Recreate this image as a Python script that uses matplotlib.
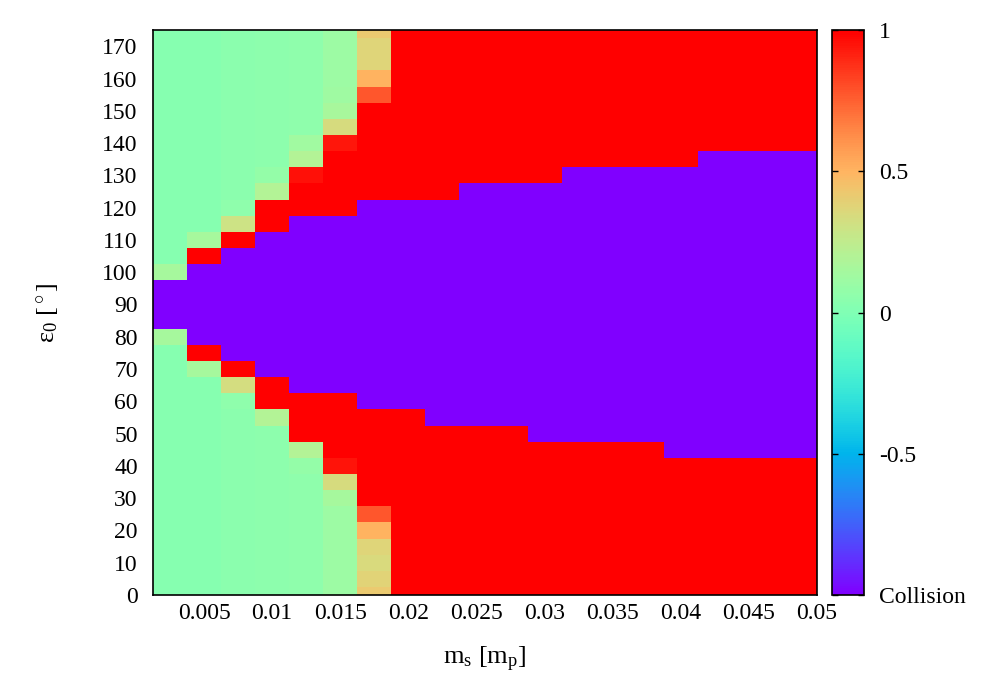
import numpy as np
import matplotlib
matplotlib.use('Agg')
import matplotlib.pyplot as plt
from matplotlib.colors import ListedColormap

plt.rcParams['font.family'] = ['Liberation Serif', 'DejaVu Serif']
plt.rcParams['mathtext.fontset'] = 'custom'
plt.rcParams['mathtext.rm'] = 'Liberation Serif'
plt.rcParams['mathtext.it'] = 'Liberation Serif:italic'

# satellite mass (column centres) and initial obliquity (row centres)
m_s = [0.0025, 0.005, 0.0075, 0.01, 0.0125, 0.015, 0.0175, 0.02, 0.0225, 0.025,
       0.0275, 0.03, 0.0325, 0.035, 0.0375, 0.04, 0.0425, 0.045, 0.0475, 0.05]
eps0 = [175, 170, 165, 160, 155, 150, 145, 140, 135, 130, 125, 120,
        115, 110, 105, 100, 95, 90, 85, 80, 75, 70, 65, 60,
        55, 50, 45, 40, 35, 30, 25, 20, 15, 10, 5, 0]

C = -1.0  # collision
# one row per eps0 value (top to bottom), one entry per m_s value
outcome = [
    [.03, .03, .04, .05, .06, .11, .42, 1, 1, 1, 1, 1, 1, 1, 1, 1, 1, 1, 1, 1],
    [.03, .03, .04, .05, .06, .11, .37, 1, 1, 1, 1, 1, 1, 1, 1, 1, 1, 1, 1, 1],
    [.03, .03, .04, .05, .06, .11, .37, 1, 1, 1, 1, 1, 1, 1, 1, 1, 1, 1, 1, 1],
    [.03, .03, .04, .05, .06, .11, .50, 1, 1, 1, 1, 1, 1, 1, 1, 1, 1, 1, 1, 1],
    [.03, .03, .04, .05, .06, .12, .78, 1, 1, 1, 1, 1, 1, 1, 1, 1, 1, 1, 1, 1],
    [.03, .03, .04, .05, .06, .16, 1, 1, 1, 1, 1, 1, 1, 1, 1, 1, 1, 1, 1, 1],
    [.03, .03, .04, .05, .06, .34, 1, 1, 1, 1, 1, 1, 1, 1, 1, 1, 1, 1, 1, 1],
    [.03, .03, .04, .05, .13, .94, 1, 1, 1, 1, 1, 1, 1, 1, 1, 1, 1, 1, 1, 1],
    [.03, .03, .04, .05, .20, 1, 1, 1, 1, 1, 1, 1, 1, 1, 1, 1, C, C, C, C],
    [.03, .03, .04, .08, .96, 1, 1, 1, 1, 1, 1, 1, C, C, C, C, C, C, C, C],
    [.03, .03, .04, .20, 1, 1, 1, 1, 1, C, C, C, C, C, C, C, C, C, C, C],
    [.03, .03, .06, 1, 1, 1, C, C, C, C, C, C, C, C, C, C, C, C, C, C],
    [.03, .03, .30, 1, C, C, C, C, C, C, C, C, C, C, C, C, C, C, C, C],
    [.03, .15, 1, C, C, C, C, C, C, C, C, C, C, C, C, C, C, C, C, C],
    [.03, 1, C, C, C, C, C, C, C, C, C, C, C, C, C, C, C, C, C, C],
    [.15, C, C, C, C, C, C, C, C, C, C, C, C, C, C, C, C, C, C, C],
    [C, C, C, C, C, C, C, C, C, C, C, C, C, C, C, C, C, C, C, C],
    [C, C, C, C, C, C, C, C, C, C, C, C, C, C, C, C, C, C, C, C],
    [C, C, C, C, C, C, C, C, C, C, C, C, C, C, C, C, C, C, C, C],
    [.15, C, C, C, C, C, C, C, C, C, C, C, C, C, C, C, C, C, C, C],
    [.03, 1, C, C, C, C, C, C, C, C, C, C, C, C, C, C, C, C, C, C],
    [.03, .15, 1, C, C, C, C, C, C, C, C, C, C, C, C, C, C, C, C, C],
    [.03, .03, .33, 1, C, C, C, C, C, C, C, C, C, C, C, C, C, C, C, C],
    [.03, .03, .06, 1, 1, 1, C, C, C, C, C, C, C, C, C, C, C, C, C, C],
    [.03, .03, .04, .20, 1, 1, 1, 1, C, C, C, C, C, C, C, C, C, C, C, C],
    [.03, .03, .04, .05, 1, 1, 1, 1, 1, 1, 1, C, C, C, C, C, C, C, C, C],
    [.03, .03, .04, .05, .20, 1, 1, 1, 1, 1, 1, 1, 1, 1, 1, C, C, C, C, C],
    [.03, .03, .04, .05, .08, .95, 1, 1, 1, 1, 1, 1, 1, 1, 1, 1, 1, 1, 1, 1],
    [.03, .03, .04, .05, .06, .34, 1, 1, 1, 1, 1, 1, 1, 1, 1, 1, 1, 1, 1, 1],
    [.03, .03, .04, .05, .06, .15, 1, 1, 1, 1, 1, 1, 1, 1, 1, 1, 1, 1, 1, 1],
    [.03, .03, .04, .05, .06, .11, .78, 1, 1, 1, 1, 1, 1, 1, 1, 1, 1, 1, 1, 1],
    [.03, .03, .04, .05, .06, .11, .50, 1, 1, 1, 1, 1, 1, 1, 1, 1, 1, 1, 1, 1],
    [.03, .03, .04, .05, .06, .11, .37, 1, 1, 1, 1, 1, 1, 1, 1, 1, 1, 1, 1, 1],
    [.03, .03, .04, .05, .06, .11, .35, 1, 1, 1, 1, 1, 1, 1, 1, 1, 1, 1, 1, 1],
    [.03, .03, .04, .05, .06, .11, .38, 1, 1, 1, 1, 1, 1, 1, 1, 1, 1, 1, 1, 1],
    [.03, .03, .04, .05, .06, .11, .42, 1, 1, 1, 1, 1, 1, 1, 1, 1, 1, 1, 1, 1],
]

x_ticks = [0.005, 0.01, 0.015, 0.02, 0.025, 0.03, 0.035, 0.04, 0.045, 0.05]
x_labels = ['0.005', '0.01', '0.015', '0.02', '0.025', '0.03', '0.035', '0.04', '0.045', '0.05']
y_ticks = [0, 10, 20, 30, 40, 50, 60, 70, 80, 90, 100, 110, 120, 130, 140, 150, 160, 170]
cb_ticks = [-1, -0.5, 0, 0.5, 1]
cb_labels = ['Collision', '-0.5', '0', '0.5', '1']

# gnuplot "rainbow" palette (rgbformulae 33,13,10)
g = np.linspace(0, 1, 256)
rgb = np.stack([np.clip(np.abs(2 * g - 0.5), 0, 1),
                np.clip(np.sin(np.pi * g), 0, 1),
                np.clip(np.cos(np.pi * g / 2), 0, 1)], axis=1)
cmap = ListedColormap(rgb)

FS = 17

fig = plt.figure(figsize=(10, 7), dpi=100)
ax = fig.add_axes([0.153, 0.15, 0.664, 0.807])
Z = np.array(outcome)
mesh = ax.pcolormesh(m_s, eps0, Z, cmap=cmap, vmin=-1, vmax=1, shading='nearest')
ax.set_xlim(0.00125, 0.05)
ax.set_ylim(0, 175)
ax.set_xticks(x_ticks)
ax.set_xticklabels(x_labels)
ax.set_yticks(y_ticks)
ax.tick_params(length=0, labelsize=FS)
ax.tick_params(axis='x', pad=6)
ax.tick_params(axis='y', pad=11)
for s in ax.spines.values():
    s.set_linewidth(1.2)
ax.set_xlabel(r'm$_\mathregular{s}$ [m$_\mathregular{p}$]', fontsize=19, labelpad=15)
ax.set_ylabel(r'ε$_\mathregular{0}$ [$^\circ$]', fontsize=19, labelpad=30)

cax = fig.add_axes([0.832, 0.15, 0.032, 0.807])
cb = fig.colorbar(mesh, cax=cax, ticks=cb_ticks)
cb.set_ticklabels(cb_labels)
cb.outline.set_linewidth(1.2)
cax.tick_params(direction='in', length=4, width=1, labelsize=FS, pad=11,
                left=True, right=True)
cax.yaxis.set_tick_params(which='minor', length=0)

fig.savefig('out.png', dpi=100)
